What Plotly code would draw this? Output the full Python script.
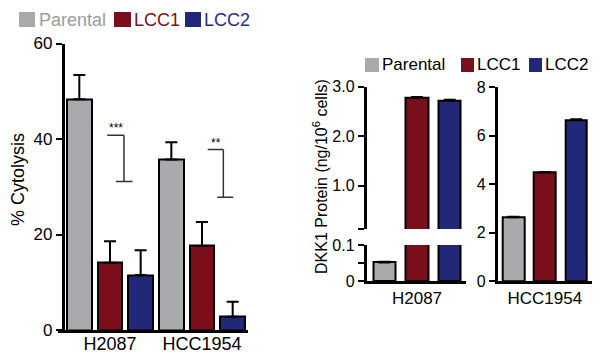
import plotly.graph_objects as go

# ---------------- data ----------------
cell_lines = ["H2087", "HCC1954"]
series_names = ["Parental", "LCC1", "LCC2"]

# % cytolysis (left panel)
cytolysis_parental = [48.3, 35.7]
cytolysis_parental_err = [5.1, 3.6]
cytolysis_lcc1 = [14.1, 17.6]
cytolysis_lcc1_err = [4.5, 5.0]
cytolysis_lcc2 = [11.5, 2.8]
cytolysis_lcc2_err = [5.2, 3.1]

# significance brackets (left panel)
sig_labels = ["***", "**"]
sig_top = [40.8, 37.8]
sig_bottom = [31.1, 27.8]

# DKK1 protein (ng/10^6 cells)
dkk1_h2087 = [0.052, 2.78, 2.72]
dkk1_h2087_err = [0.002, 0.012, 0.015]
dkk1_hcc1954 = [2.63, 4.48, 6.65]
dkk1_hcc1954_err = [0.02, 0.02, 0.03]

left_ticks = [0, 20, 40, 60]
h2087_upper_ticks = [0.125, 1, 2, 3]
h2087_upper_labels = ["", "1.0", "2.0", "3.0"]
h2087_lower_ticks = [0, 0.05, 0.1]
h2087_lower_labels = ["0", "", "0.1"]
hcc_ticks = [0, 2, 4, 6, 8]

# ---------------- style ----------------
OFF = 8  # page body margin
W, H = 600 - OFF, 359 - OFF
FONT = "Liberation Sans, Arial, Helvetica, sans-serif"
COLORS = ["#A8AAAD", "#7A0E1B", "#222878"]
TEXT_COLORS = ["#9A9C9F", "#7E1019", "#262C86"]


def px(x):
    return (x - OFF) / W


def py(y):
    return 1 - (y - OFF) / H


fig = go.Figure()

left_vals = [cytolysis_parental, cytolysis_lcc1, cytolysis_lcc2]
left_errs = [cytolysis_parental_err, cytolysis_lcc1_err, cytolysis_lcc2_err]


def err(arr, show=True):
    return dict(type="data", array=arr, arrayminus=[0] * len(arr), symmetric=False,
                color="black", thickness=2, width=6, visible=show)


for i, name in enumerate(series_names):
    fig.add_trace(go.Bar(
        x=cell_lines, y=left_vals[i], name=name, offsetgroup=str(i),
        marker=dict(color=COLORS[i], line=dict(color="black", width=2)),
        width=0.27, error_y=err(left_errs[i]), xaxis="x", yaxis="y", showlegend=False))

# H2087 DKK1 : upper and lower segments of a broken axis
for i, name in enumerate(series_names):
    e = [dkk1_h2087_err[i]]
    show_upper = dkk1_h2087[i] > h2087_lower_ticks[-1]
    fig.add_trace(go.Bar(
        x=[cell_lines[0]], y=[dkk1_h2087[i]], name=name, offsetgroup=str(i),
        marker=dict(color=COLORS[i], line=dict(color="black", width=2)),
        width=0.23, error_y=err(e, show_upper),
        xaxis="x2", yaxis="y2", showlegend=False))
    fig.add_trace(go.Bar(
        x=[cell_lines[0]], y=[dkk1_h2087[i]], name=name, offsetgroup=str(i),
        marker=dict(color=COLORS[i], line=dict(color="black", width=2)),
        width=0.23, error_y=err(e, not show_upper),
        xaxis="x3", yaxis="y3", showlegend=False))

for i, name in enumerate(series_names):
    fig.add_trace(go.Bar(
        x=[cell_lines[1]], y=[dkk1_hcc1954[i]], name=name, offsetgroup=str(i),
        marker=dict(color=COLORS[i], line=dict(color="black", width=2)),
        width=0.23, error_y=err([dkk1_hcc1954_err[i]]),
        xaxis="x4", yaxis="y4", showlegend=False))

axis_common = dict(showgrid=False, zeroline=False, showline=True, linecolor="black",
                   linewidth=2.5, automargin=False,
                   tickfont=dict(family=FONT, size=17, color="black"))

yaxis_common = dict(axis_common, ticks="outside", ticklen=6, tickwidth=2, tickcolor="black")

fig.update_layout(
    width=W, height=H, margin=dict(l=0, r=0, t=0, b=0, autoexpand=False),
    paper_bgcolor="white", plot_bgcolor="white",
    barmode="group", bargap=0, bargroupgap=0,
    font=dict(family=FONT, color="black"),
    xaxis=dict(axis_common, domain=[px(58), px(248)], anchor="y", type="category",
               range=[-0.565, 1.5], ticks="", ticklabelstandoff=-4,
               tickfont=dict(family=FONT, size=18)),
    yaxis=dict(yaxis_common, domain=[py(330), py(43.5)], anchor="free", position=px(62.5),
               range=[0, 60], tickvals=left_ticks),
    xaxis2=dict(axis_common, domain=[px(366.5), px(466)], anchor="y2", type="category",
                range=[-0.515, 0.5], showline=False, showticklabels=False, ticks=""),
    yaxis2=dict(yaxis_common, domain=[py(229), py(86.7)], anchor="x2", range=[0.125, 3.0],
                tickvals=h2087_upper_ticks, ticktext=h2087_upper_labels,
                tickfont=dict(family=FONT, size=16)),
    xaxis3=dict(axis_common, domain=[px(366.5), px(466)], anchor="y3", type="category",
                range=[-0.515, 0.5], ticks="", tickfont=dict(family=FONT, size=17)),
    yaxis3=dict(yaxis_common, domain=[py(281.3), py(245)], anchor="x3", range=[0, 0.1],
                tickvals=h2087_lower_ticks, ticktext=h2087_lower_labels,
                tickfont=dict(family=FONT, size=16)),
    xaxis4=dict(axis_common, domain=[px(497.7), px(592)], anchor="y4", type="category",
                range=[-0.5, 0.5], ticks="", tickfont=dict(family=FONT, size=17)),
    yaxis4=dict(yaxis_common, domain=[py(281), py(87.3)], anchor="x4", range=[0, 8],
                tickvals=hcc_ticks, tickfont=dict(family=FONT, size=16)),
)

# significance brackets
bracket_h = [(-0.03, 0.152), (1.062, 1.232)]
bracket_cap = [(0.065, 0.245), (1.166, 1.34)]
for k, lab in enumerate(sig_labels):
    x0, x1 = bracket_h[k]
    c0, c1 = bracket_cap[k]
    line = dict(color="#333333", width=1.5)
    fig.add_shape(type="line", xref="x", yref="y", x0=x0, x1=x1, y0=sig_top[k], y1=sig_top[k], line=line)
    fig.add_shape(type="line", xref="x", yref="y", x0=x1, x1=x1, y0=sig_top[k], y1=sig_bottom[k], line=line)
    fig.add_shape(type="line", xref="x", yref="y", x0=c0, x1=c1, y0=sig_bottom[k], y1=sig_bottom[k], line=line)
    fig.add_annotation(xref="x", yref="y", x=(x0 + x1) / 2, y=sig_top[k], text=lab,
                       showarrow=False, yanchor="bottom", xanchor="center", yshift=-2,
                       font=dict(family=FONT, size=12, color="black"))

# axis titles
fig.add_annotation(xref="paper", yref="paper", x=px(18), y=py(180), text="% Cytolysis",
                   textangle=-90, showarrow=False, xanchor="center", yanchor="middle",
                   font=dict(family=FONT, size=18, color="black"))
fig.add_annotation(xref="paper", yref="paper", x=px(320), y=py(176),
                   text="DKK1 Protein (ng/10<sup>6</sup> cells)",
                   textangle=-90, showarrow=False, xanchor="center", yanchor="middle",
                   font=dict(family=FONT, size=16, color="black"))

# legends (manual)
left_leg = [(19, 35, 37), (114, 131, 132), (185, 201, 202)]
for i, name in enumerate(series_names):
    a, b, t = left_leg[i]
    fig.add_shape(type="rect", xref="paper", yref="paper", x0=px(a), x1=px(b), y0=py(27), y1=py(12),
                  fillcolor=COLORS[i], line=dict(width=0))
    fig.add_annotation(xref="paper", yref="paper", x=px(t), y=py(20), text=name, showarrow=False,
                       xanchor="left", yanchor="middle",
                       font=dict(family=FONT, size=18, color=TEXT_COLORS[i]))

right_leg = [(365, 379, 380), (461, 474, 475), (529, 542, 543)]
for i, name in enumerate(series_names):
    a, b, t = right_leg[i]
    fig.add_shape(type="rect", xref="paper", yref="paper", x0=px(a), x1=px(b), y0=py(72), y1=py(58),
                  fillcolor=COLORS[i], line=dict(width=0))
    fig.add_annotation(xref="paper", yref="paper", x=px(t), y=py(65), text=name, showarrow=False,
                       xanchor="left", yanchor="middle",
                       font=dict(family=FONT, size=17, color="black"))

fig.write_html("out.html")
